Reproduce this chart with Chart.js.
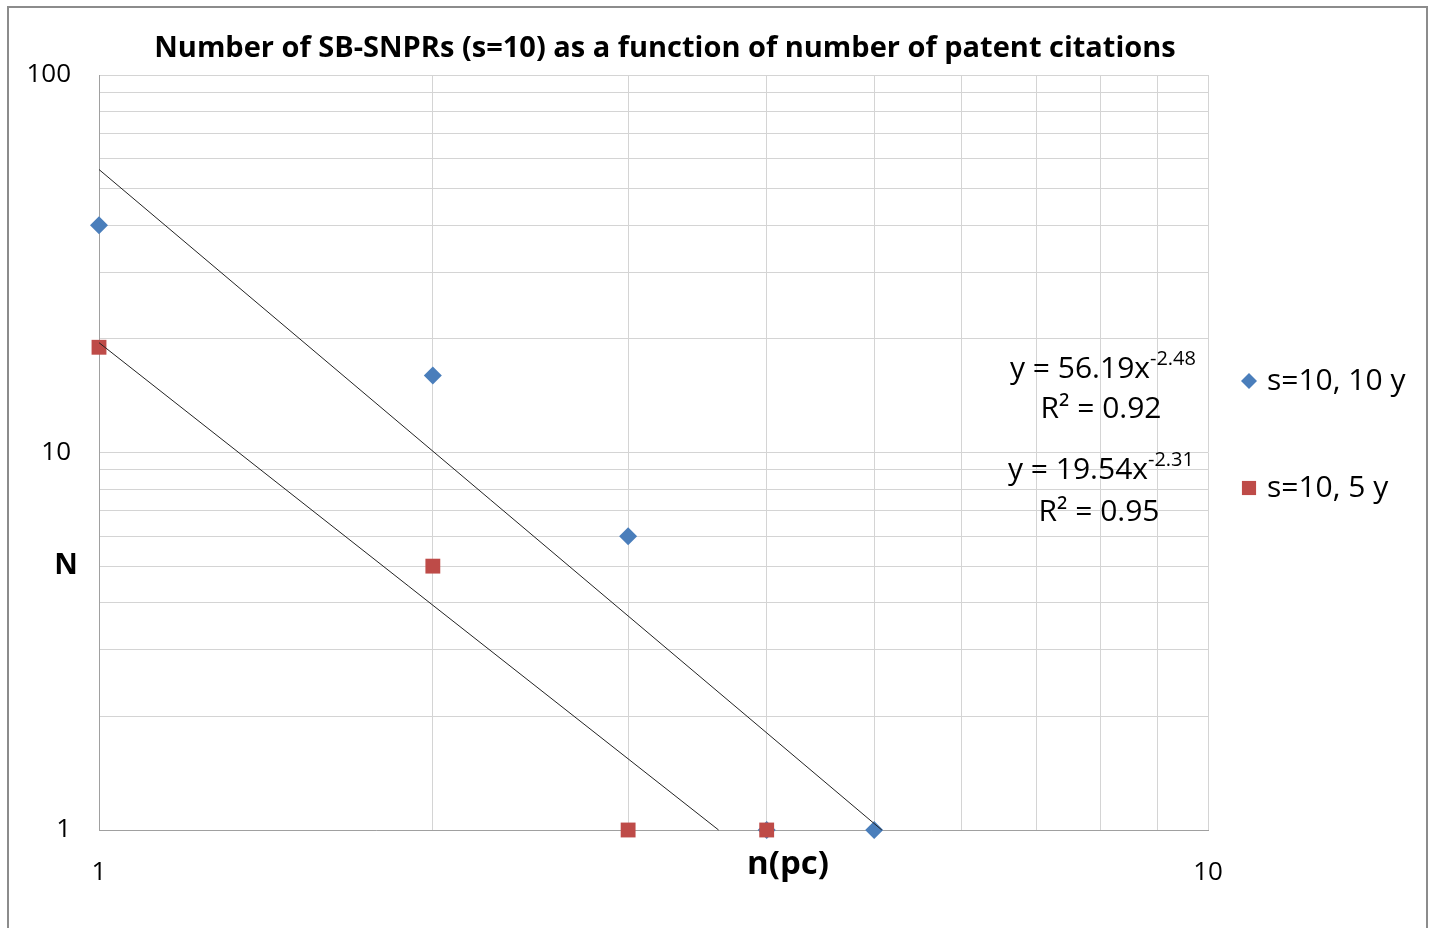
<!DOCTYPE html>
<html>
<head>
<meta charset="utf-8">
<script src="https://cdn.jsdelivr.net/npm/chart.js@4.4.1/dist/chart.umd.min.js"></script>
<style>
  body { margin: 0; background: #fff; }
  canvas { display: block; }
</style>
</head>
<body>
<canvas id="chart" width="1429" height="928"></canvas>
<script>
// data
var xTicks = [1, 2, 3, 4, 5, 6, 7, 8, 9, 10];
var yTicks = [1, 2, 3, 4, 5, 6, 7, 8, 9, 10, 20, 30, 40, 50, 60, 70, 80, 90, 100];
var tickLabels = ['1', '10', '100'];

var nPc10 = [1, 2, 3, 4, 5];
var count10 = [40, 16, 6, 1, 1];
var nPc5 = [1, 2, 3, 4];
var count5 = [19, 5, 1, 1];

// power-law trend lines (straight on log-log), end points
var trend10X = [1, 5.08];
var trend10Y = [56.19, 1];
var trend5X = [1, 3.62];
var trend5Y = [19.54, 1];

var seriesNames = ['s=10, 10 y', 's=10, 5 y'];
var eq10 = ['y = 56.19x', '-2.48', 'R² = 0.92'];
var eq5 = ['y = 19.54x', '-2.31', 'R² = 0.95'];

var BLUE = '#4a7ebb', RED = '#be4b48';
var FONT = "'Open Sans', sans-serif";

function pts(xs, ys) {
    return xs.map(function (x, i) { return { x: x, y: ys[i] }; });
}

var textPlugin = {
    id: 'texts',
    afterDraw: function (chart) {
        var ctx = chart.ctx;
        ctx.save();
        // outer frame
        ctx.strokeStyle = '#8c8c8c';
        ctx.lineWidth = 2;
        ctx.strokeRect(8, 7, 1419, 940);

        ctx.fillStyle = '#000';
        ctx.textBaseline = 'middle';
        ctx.textAlign = 'center';
        ctx.font = 'bold 29px ' + FONT;
        ctx.fillText('Number of SB-SNPRs (s=10) as a function of number of patent citations', 665, 49);
        ctx.font = 'bold 29px ' + FONT;
        ctx.fillText('N', 66, 566);
        ctx.font = 'bold 33px ' + FONT;
        ctx.fillText('n(pc)', 788, 865);

        // trend equations
        function equation(e, cx, y1, y2) {
            ctx.font = '30px ' + FONT;
            var w1 = ctx.measureText(e[0]).width;
            ctx.font = '20px ' + FONT;
            var w2 = ctx.measureText(e[1]).width;
            var left = cx - (w1 + w2) / 2;
            ctx.textAlign = 'left';
            ctx.font = '30px ' + FONT;
            ctx.fillText(e[0], left, y1);
            ctx.font = '20px ' + FONT;
            ctx.fillText(e[1], left + w1, y1 - 10);
            ctx.textAlign = 'center';
            ctx.font = '30px ' + FONT;
            ctx.fillText(e[2], cx - 2, y2);
        }
        equation(eq10, 1103, 369, 409);
        equation(eq5, 1101, 470, 512);

        // legend
        var h = Chart.helpers;
        ctx.font = '30px ' + FONT;
        ctx.textAlign = 'left';
        ctx.fillStyle = BLUE;
        h.drawPoint(ctx, { pointStyle: 'rectRot', radius: 8, borderWidth: 0 }, 1249, 381);
        ctx.fillStyle = RED;
        h.drawPoint(ctx, { pointStyle: 'rect', radius: 10, borderWidth: 0 }, 1249, 488);
        ctx.fillStyle = '#000';
        ctx.fillText(seriesNames[0], 1267, 381);
        ctx.fillText(seriesNames[1], 1267, 488);
        ctx.restore();
    }
};

function tickCb(v) {
    var s = String(v);
    return tickLabels.indexOf(s) >= 0 ? s : '';
}

var chart = new Chart(document.getElementById('chart'), {
    type: 'scatter',
    data: {
        datasets: [{
            label: 'trend 10',
            data: pts(trend10X, trend10Y),
            showLine: true,
            borderColor: '#222',
            borderWidth: 1,
            pointRadius: 0,
            order: 0
        }, {
            label: 'trend 5',
            data: pts(trend5X, trend5Y),
            showLine: true,
            borderColor: '#222',
            borderWidth: 1,
            pointRadius: 0,
            order: 0
        }, {
            label: seriesNames[1],
            data: pts(nPc5, count5),
            pointStyle: 'rect',
            pointRadius: 10.5,
            backgroundColor: RED,
            borderWidth: 0,
            order: 1
        }, {
            label: seriesNames[0],
            data: pts(nPc10, count10),
            pointStyle: 'rectRot',
            pointRadius: 9,
            backgroundColor: BLUE,
            borderWidth: 0,
            order: 2
        }]
    },
    options: {
        responsive: false,
        animation: false,
        clip: false,
        layout: { padding: { left: 0, top: 75, right: 221, bottom: 0 } },
        plugins: {
            legend: { display: false },
            title: { display: false },
            tooltip: { enabled: false }
        },
        scales: {
            x: {
                type: 'logarithmic',
                min: 1,
                max: 10,
                afterBuildTicks: function (s) { s.ticks = xTicks.map(function (v) { return { value: v }; }); },
                afterFit: function (s) { s.height = 98; },
                grid: { color: '#d4d4d4', drawTicks: false },
                border: { color: '#a0a0a0' },
                ticks: {
                    autoSkip: false,
                    maxRotation: 0,
                    padding: 27,
                    color: '#000',
                    font: { family: FONT, size: 26 },
                    callback: tickCb
                }
            },
            y: {
                type: 'logarithmic',
                min: 1,
                max: 100,
                afterBuildTicks: function (s) { s.ticks = yTicks.map(function (v) { return { value: v }; }); },
                afterFit: function (s) { s.width = 99; },
                grid: { color: '#d4d4d4', drawTicks: false },
                border: { color: '#a0a0a0' },
                ticks: {
                    autoSkip: false,
                    padding: 28,
                    color: '#000',
                    font: { family: FONT, size: 26 },
                    callback: tickCb
                }
            }
        }
    },
    plugins: [textPlugin]
});
</script>
</body>
</html>
